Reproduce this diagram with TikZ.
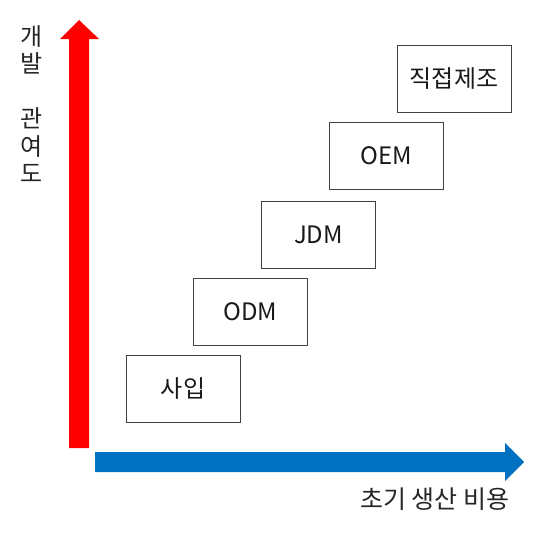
\documentclass[tikz,border=0pt]{standalone}
\usepackage{fontspec}
\setmainfont{Noto Sans CJK KR}
\usepackage{xcolor}
\definecolor{axred}{HTML}{FF0000}
\definecolor{axblue}{HTML}{0070C0}
\usepackage{tikz}
\usetikzlibrary{positioning}
\tikzset{
  every picture/.style={line join=miter},
  lbl/.style={font=\fontsize{24}{27.5}\selectfont, text=black!85},
  stepbox/.style={draw=black!75, line width=0.9pt, minimum width=114pt,
    minimum height=67pt, inner sep=0pt, font=\fontsize{24}{28}\selectfont, text=black!90},
}
\begin{document}
\begin{tikzpicture}[x=1pt, y=-1pt]
\useasboundingbox (0,0) rectangle (553,538);
% axes
\fill[axred] (69,448) -- (69,39) -- (60,39) -- (79,20) -- (99,39) -- (89,39) -- (89,448) -- cycle;
\fill[axblue] (95,452) -- (505,452) -- (505,443) -- (524,462) -- (505,481) -- (505,472) -- (95,472) -- cycle;
% axis labels
\node[lbl, align=center] (yl) at (32,104) {개\\발\\ \\관\\여\\도};
\node[lbl, font=\fontsize{25}{30}\selectfont, anchor=east] (xl) at (513,499) {초기 생산 비용};
% the steps
\node[stepbox] (buy) at (183,388.5) {사입};
\node[stepbox] (odm) at (250.5,312) {ODM};
\node[stepbox] (jdm) at (318.5,234.5) {JDM};
\node[stepbox] (oem) at (386,156) {OEM};
\node[stepbox] (own) at (454,79) {직접제조};
\end{tikzpicture}
\end{document}
